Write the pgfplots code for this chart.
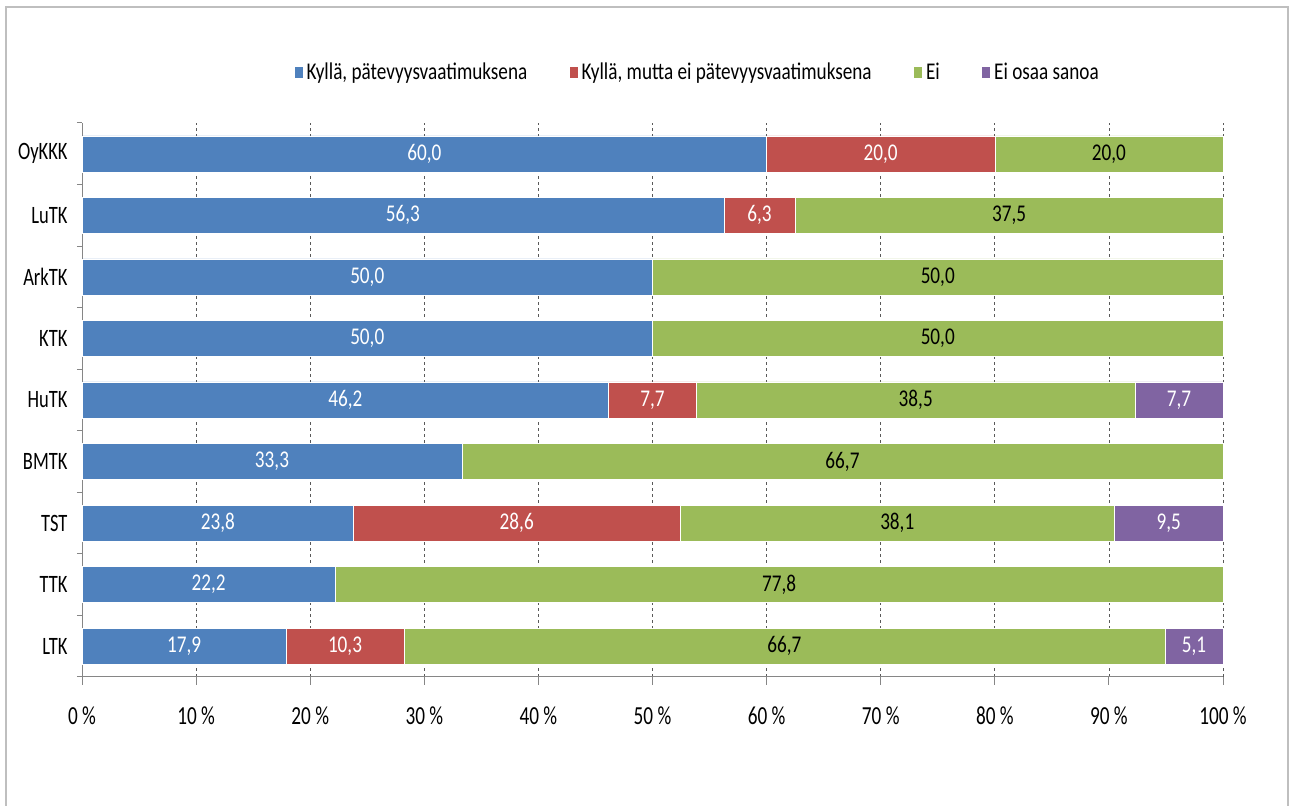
\documentclass[border=0pt]{standalone}
\usepackage{pgfplots}
\pgfplotsset{compat=1.18}
\usepackage{pgfplotstable}
\usepackage{fontspec}
\setmainfont{Carlito}[FakeStretch=0.8]
\newfontfamily\tickfont{Carlito}[FakeStretch=0.74]

\definecolor{cBlue}{HTML}{4F81BD}
\definecolor{cRed}{HTML}{C0504D}
\definecolor{cGreen}{HTML}{9BBB59}
\definecolor{cPurple}{HTML}{8064A2}
\definecolor{cAxis}{HTML}{868686}
\definecolor{cGrid}{HTML}{595959}

% c: 8 = OyKKK (top) ... 0 = LTK (bottom)
\pgfplotstableread{
c v lab
8 60.0 60,0
7 56.25 56,3
6 50.0 50,0
5 50.0 50,0
4 46.15 46,2
3 33.3 33,3
2 23.8 23,8
1 22.2 22,2
0 17.9 17,9
}\tblA
\pgfplotstableread{
c v lab
8 20.0 20,0
7 6.25 6,3
6 0 {}
5 0 {}
4 7.69 7,7
3 0 {}
2 28.6 28,6
1 0 {}
0 10.3 10,3
}\tblB
\pgfplotstableread{
c v lab
8 20.0 20,0
7 37.5 37,5
6 50.0 50,0
5 50.0 50,0
4 38.46 38,5
3 66.7 66,7
2 38.1 38,1
1 77.8 77,8
0 66.7 66,7
}\tblC
\pgfplotstableread{
c v lab
8 0 {}
7 0 {}
6 0 {}
5 0 {}
4 7.69 7,7
3 0 {}
2 9.5 9,5
1 0 {}
0 5.1 5,1
}\tblD

\begin{document}
\begin{tikzpicture}
\useasboundingbox (0,0) rectangle (1289pt,805pt);
\draw[color=black!25, line width=1.2pt] (6pt,-3pt) -- (6pt,798pt) -- (1288pt,798pt) -- (1288pt,-3pt);
\begin{axis}[
  at={(82pt,128pt)}, anchor=south west,
  scale only axis, width=1141pt, height=554pt,
  xbar stacked, bar width=36pt,
  xmin=0, xmax=100, ymin=-0.5, ymax=8.5,
  clip=false,
  axis x line*=bottom, axis y line*=left,
  axis line style={cAxis, line width=1pt},
  xtick={0,10,...,100},
  xticklabels={0 \%,10 \%,20 \%,30 \%,40 \%,50 \%,60 \%,70 \%,80 \%,90 \%,100 \%},
  ytick={0,...,8},
  yticklabels={LTK,TTK,TST,BMTK,HuTK,KTK,ArkTK,LuTK,OyKKK},
  minor ytick={-0.5,0.5,...,8.5},
  tick align=outside,
  major tick length=8pt, minor tick length=5pt,
  major x tick style={cAxis, line width=1pt},
  major y tick style={draw=none},
  minor y tick style={cAxis, line width=1pt},
  xmajorgrids,
  major x grid style={dashed, cGrid, line width=0.8pt},
  xticklabel style={font=\tickfont\fontsize{26}{26}\selectfont, yshift=-18pt},
  yticklabel style={font=\tickfont\fontsize{25}{25}\selectfont, xshift=-3pt},
  point meta=explicit symbolic,
  nodes near coords,
  every node near coord/.append style={anchor=center, font=\fontsize{24}{24}\selectfont},
  legend columns=4,
  legend style={at={(0.539,1.092)}, anchor=center, draw=none, fill=none,
    font=\fontsize{24}{24}\selectfont,
    nodes={inner sep=1.5pt},
    /tikz/every even column/.append style={column sep=40pt}},
  legend image code/.code={\fill[#1] (0pt,-6pt) rectangle (9pt,6pt); \path (11pt,0pt);},
]
\addplot[fill=cBlue, draw=white, line width=0.4pt, nodes near coords style={text=white}] table[x=v, y=c, meta=lab] {\tblA};
\addplot[fill=cRed, draw=white, line width=0.4pt, nodes near coords style={text=white}] table[x=v, y=c, meta=lab] {\tblB};
\addplot[fill=cGreen, draw=white, line width=0.4pt, nodes near coords style={text=black}] table[x=v, y=c, meta=lab] {\tblC};
\addplot[fill=cPurple, draw=white, line width=0.4pt, nodes near coords style={text=white}] table[x=v, y=c, meta=lab] {\tblD};
\legend{Kyllä{,} pätevyysvaatimuksena, Kyllä{,} mutta ei pätevyysvaatimuksena, Ei, Ei osaa sanoa}
\end{axis}
\end{tikzpicture}
\end{document}
